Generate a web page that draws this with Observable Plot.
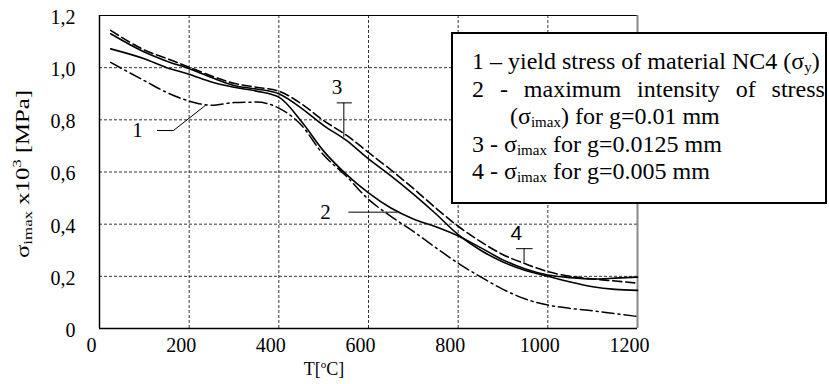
<!DOCTYPE html>
<html>
<head>
<meta charset="utf-8">
<script src="https://cdn.jsdelivr.net/npm/d3@7"></script>
<script src="https://cdn.jsdelivr.net/npm/@observablehq/plot@0.6"></script>
<style>
  html, body { margin: 0; padding: 0; background: #fff; }
  #wrap { position: relative; width: 829px; height: 384px; }
  #legend {
    position: absolute; left: 451px; top: 32px; width: 376px; height: 172px;
    box-sizing: border-box; border: 2px solid #000; background: #fff;
    padding: 14px 0 0 19px; font-size: 24px; line-height: 27.5px; color: #000;
    white-space: nowrap;
  }
  #legend .ln { width: 353px; }
  #legend .just { display: flex; justify-content: space-between; }
  #legend sub { font-size: 15px; vertical-align: -3px; line-height: 0; }
</style>
</head>
<body>
<div id="wrap"></div>
<script>
// ---- data ----
const temps = [25,100,150,200,250,300,350,400,450,500,550,600,650,700,750,800,850,900,950,1000,1050,1100,1150,1200];
// 1 - yield stress of material NC4 (dash-dot)
const yieldStress = [1.02,0.95,0.905,0.872,0.856,0.866,0.868,0.845,0.78,0.665,0.585,0.495,0.43,0.372,0.31,0.25,0.198,0.15,0.113,0.09,0.077,0.068,0.057,0.046];
// 2 - sigma_imax for g=0.01 mm (solid)
const g010 = [1.072,1.034,1.0,0.975,0.945,0.925,0.91,0.887,0.795,0.68,0.592,0.52,0.462,0.42,0.39,0.355,0.31,0.263,0.228,0.205,0.195,0.19,0.193,0.197];
// 3 - sigma_imax for g=0.0125 mm (solid)
const g0125 = [1.13,1.06,1.025,0.996,0.962,0.932,0.918,0.9,0.845,0.778,0.722,0.65,0.585,0.515,0.44,0.36,0.3,0.255,0.222,0.2,0.178,0.16,0.15,0.146];
// 4 - sigma_imax for g=0.005 mm (dashed)
const g005 = [1.143,1.068,1.035,1.002,0.968,0.94,0.925,0.91,0.862,0.797,0.742,0.675,0.608,0.537,0.462,0.392,0.333,0.283,0.248,0.218,0.2,0.19,0.182,0.174];

const xTicks = [0,200,400,600,800,1000,1200];
const yTicks = [0,0.2,0.4,0.6,0.8,1.0,1.2];
const xGrid = [200,400,600,800,1000];
const yGrid = [0.2,0.4,0.6,0.8,1.0];

// curve labels (data coordinates)
const labelText = ["1","2","3"];
const labelT = [85,504,530];
const labelV = [0.759,0.446,0.925];
const label4T = [930];
const label4V = [0.364];
// pointer lines (data coordinates)
const pointerId = ["a","a","a","b","b","c","c","d","d","e","e","f","f"];
const pointerT  = [129,165,236, 556,664, 530,562, 545,545, 930,965, 947,947];
const pointerV  = [0.759,0.759,0.855, 0.446,0.446, 0.865,0.865, 0.865,0.736, 0.306,0.306, 0.306,0.254];

// ---- tables ----
const rowsOf = (vals) => temps.map((T, i) => ({T, v: vals[i]}));
const pointers = pointerT.map((T, i) => ({T, v: pointerV[i], id: pointerId[i]}));
const labels = labelText.map((t, i) => ({t, T: labelT[i], v: labelV[i]}));
const labels4 = label4T.map((T, i) => ({t: "4", T, v: label4V[i]}));

const fmtY = d => d === 0 ? "0" : d.toFixed(1).replace(".", ",");
const fmtX = d => String(d);
const serif = '"Liberation Serif", serif';
const sans = '"Liberation Sans", sans-serif';

const chart = Plot.plot({
  width: 829, height: 384,
  marginLeft: 99, marginRight: 192, marginTop: 15, marginBottom: 56,
  style: {fontSize: "20px", background: "transparent", color: "#000"},
  x: {domain: [0, 1200]},
  y: {domain: [0, 1.2]},
  marks: [
    Plot.ruleY(yGrid, {stroke: "#000", strokeWidth: 0.8, strokeDasharray: "3,2"}),
    Plot.ruleX(xGrid, {stroke: "#000", strokeWidth: 0.8, strokeDasharray: "3,2"}),
    Plot.ruleY([1.2], {stroke: "#000", strokeWidth: 1.2}),
    Plot.ruleX([1200], {stroke: "#888", strokeWidth: 2}),
    Plot.ruleX([0], {stroke: "#000", strokeWidth: 1.5}),
    Plot.ruleY([0], {stroke: "#000", strokeWidth: 1.5}),
    Plot.line(rowsOf(yieldStress), {x: "T", y: "v", curve: "monotone-x", stroke: "#000", strokeWidth: 1.5, strokeDasharray: "12,4,2,4"}),
    Plot.line(rowsOf(g010), {x: "T", y: "v", curve: "monotone-x", stroke: "#000", strokeWidth: 1.6}),
    Plot.line(rowsOf(g0125), {x: "T", y: "v", curve: "monotone-x", stroke: "#000", strokeWidth: 1.6}),
    Plot.line(rowsOf(g005), {x: "T", y: "v", curve: "monotone-x", stroke: "#000", strokeWidth: 1.6, strokeDasharray: "9,4"}),
    Plot.line(pointers, {x: "T", y: "v", z: "id", stroke: "#000", strokeWidth: 1}),
    Plot.text(labels, {x: "T", y: "v", text: "t", fontSize: 21, fill: "#000"}),
    Plot.text(labels4, {x: "T", y: "v", text: "t", fontSize: 21, fill: "#000", className: "lab-sans"}),
    Plot.axisX({ticks: xTicks, tickSize: 0, tickPadding: 9, dx: -8, tickFormat: fmtX, fontSize: 20, label: null}),
    Plot.axisY({ticks: yTicks, tickSize: 0, tickPadding: 24, dy: 2, tickFormat: fmtY, fontSize: 20, label: null})
  ]
});

const wrap = document.getElementById("wrap");
wrap.style.fontFamily = serif;
wrap.appendChild(chart);
chart.style.fontFamily = serif;

const svg = d3.select(chart);
svg.selectAll(".lab-sans text").style("font-family", sans);

// axis titles with sub/superscripts
const yl = svg.append("text")
  .attr("transform", "translate(29,174) rotate(-90)")
  .attr("text-anchor", "middle")
  .style("font-family", serif).attr("font-size", 19).attr("fill", "#000")
  .attr("textLength", 168).attr("lengthAdjust", "spacingAndGlyphs");
yl.append("tspan").text("σ");
yl.append("tspan").attr("font-size", 13).attr("dy", 3).text("imax");
yl.append("tspan").attr("dy", -3).text(" x10");
yl.append("tspan").attr("font-size", 13).attr("dy", -8).text("3");
yl.append("tspan").attr("dy", 8).text(" [MPa]");

const xl = svg.append("text")
  .attr("x", 324).attr("y", 375)
  .attr("text-anchor", "middle")
  .style("font-family", serif).attr("font-size", 18).attr("fill", "#000");
xl.append("tspan").text("T[");
xl.append("tspan").attr("font-size", 11).attr("dy", -7).text("o");
xl.append("tspan").attr("dy", 7).text("C]");

// legend box
const legend = document.createElement("div");
legend.id = "legend";
legend.style.fontFamily = serif;
legend.innerHTML = `
  <div class="ln">1 – yield stress of material NC4 (σ<sub>y</sub>)</div>
  <div class="ln just"><span>2</span><span>-</span><span>maximum</span><span>intensity</span><span>of</span><span>stress</span></div>
  <div class="ln" style="padding-left:38px">(σ<sub>imax</sub>) for g=0.01 mm</div>
  <div class="ln">3 - σ<sub>imax</sub> for g=0.0125 mm</div>
  <div class="ln">4 - σ<sub>imax</sub> for g=0.005 mm</div>`;
wrap.appendChild(legend);
</script>
</body>
</html>
